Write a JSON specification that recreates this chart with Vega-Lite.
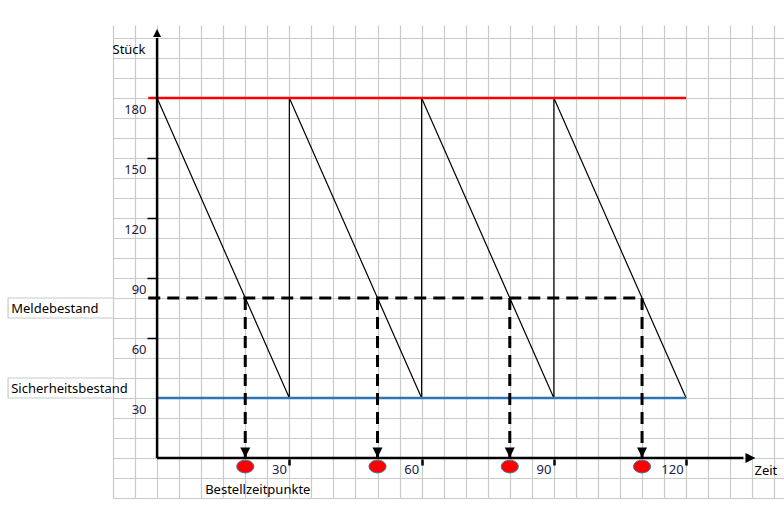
{
  "$schema": "https://vega.github.io/schema/vega-lite/v6.json",
  "width": 671,
  "height": 473,
  "autosize": {"type": "none"},
  "padding": {"left": 113, "top": 25, "right": 0, "bottom": 18},
  "background": "white",
  "config": {"view": {"stroke": null}, "font": "Noto Sans"},
  "datasets": {
    "stock": [
      {"t": 0, "v": 180, "i": 0},
      {"t": 30, "v": 30, "i": 1},
      {"t": 30, "v": 180, "i": 2},
      {"t": 60, "v": 30, "i": 3},
      {"t": 60, "v": 180, "i": 4},
      {"t": 90, "v": 30, "i": 5},
      {"t": 90, "v": 180, "i": 6},
      {"t": 120, "v": 30, "i": 7}
    ],
    "levels": [
      {"name": "Höchstbestand", "t": -2, "t2": 120, "v": 180},
      {"name": "Sicherheitsbestand", "t": 0, "t2": 120, "v": 30},
      {"name": "Meldebestand", "t": -2, "t2": 110, "v": 80}
    ],
    "orders": [
      {"t": 20, "v": 80},
      {"t": 50, "v": 80},
      {"t": 80, "v": 80},
      {"t": 110, "v": 80}
    ],
    "axes": [
      {"name": "Stück", "t": 0, "t2": 0, "v": 0, "v2": 210},
      {"name": "Zeit", "t": 0, "t2": 133, "v": 0, "v2": 0}
    ],
    "cells": [
      {"t": -33.8, "t2": -10, "v": 80, "v2": 80},
      {"t": -33.8, "t2": -10, "v": 70, "v2": 70},
      {"t": -33.8, "t2": -33.8, "v": 70, "v2": 80},
      {"t": -33.8, "t2": -10, "v": 40, "v2": 40},
      {"t": -33.8, "t2": -10, "v": 30, "v2": 30},
      {"t": -33.8, "t2": -33.8, "v": 30, "v2": 40}
    ],
    "notes": [
      {"t": -33.1, "v": 74.5, "label": "Meldebestand"},
      {"t": -33.1, "v": 34.5, "label": "Sicherheitsbestand"},
      {"t": 10.9, "v": -16, "label": "Bestellzeitpunkte"}
    ]
  },
  "encoding": {
    "x": {"field": "t", "type": "quantitative", "scale": {"domain": [-10, 142.2], "nice": false, "zero": false}, "axis": null},
    "y": {"field": "v", "type": "quantitative", "scale": {"domain": [-20, 216.5], "nice": false, "zero": false}, "axis": null}
  },
  "layer": [
    {
      "data": {"name": "stock"},
      "mark": {"type": "line", "color": "black", "strokeWidth": 1.2},
      "encoding": {
        "x": {"field": "t", "type": "quantitative", "scale": {"domain": [-10, 142.2], "nice": false, "zero": false},
          "axis": {"orient": "bottom", "values": [-10,-5,0,5,10,15,20,25,30,35,40,45,50,55,60,65,70,75,80,85,90,95,100,105,110,115,120,125,130,135,140],
            "grid": true, "gridColor": "#c6ccc6", "gridWidth": 1.2, "labels": false, "ticks": false, "domain": false, "title": null}},
        "y": {"field": "v", "type": "quantitative", "scale": {"domain": [-20, 216.5], "nice": false, "zero": false},
          "axis": {"orient": "left", "values": [-20,-10,0,10,20,30,40,50,60,70,80,90,100,110,120,130,140,150,160,170,180,190,200,210],
            "grid": true, "gridColor": "#c6ccc6", "gridWidth": 1.2, "labels": false, "ticks": false, "domain": false, "title": null}},
        "order": {"field": "i"}
      }
    },
    {
      "data": {"name": "cells"},
      "mark": {"type": "rule", "color": "#c6ccc6", "strokeWidth": 1.2},
      "encoding": {"x2": {"field": "t2"}, "y2": {"field": "v2"}}
    },
    {
      "data": {"name": "levels"},
      "transform": [{"filter": "datum.name == 'Höchstbestand'"}],
      "mark": {"type": "rule", "color": "#ff0000", "strokeWidth": 2.5},
      "encoding": {
        "x": {"field": "t", "type": "quantitative", "scale": {"domain": [-10, 142.2], "nice": false, "zero": false},
          "axis": {"orient": "bottom", "offset": -39, "values": [30, 60, 90, 120], "grid": false, "domain": false,
            "tickSize": 6, "tickColor": "black", "tickWidth": 2.5,
            "labelAlign": "right", "labelBaseline": "middle", "labelOffset": -3, "labelPadding": 4,
            "labelFont": "Noto Sans", "labelFontSize": 13, "labelColor": "#202048", "labelFlush": false, "labelOverlap": false,
            "title": "Zeit", "titleX": 641, "titleY": 11, "titleAlign": "left", "titleBaseline": "middle",
            "titleFont": "Noto Sans", "titleFontSize": 13, "titleFontWeight": "normal", "titleColor": "black"}},
        "x2": {"field": "t2"},
        "y": {"field": "v", "type": "quantitative", "scale": {"domain": [-20, 216.5], "nice": false, "zero": false},
          "axis": {"orient": "left", "offset": -44, "values": [30, 60, 90, 120, 150, 180], "grid": false, "domain": false,
            "tickSize": 10, "tickColor": "black", "tickWidth": 1.5,
            "tickOpacity": {"condition": {"test": "datum.value == 30 || datum.value == 180", "value": 0}, "value": 1},
            "labelAlign": "right", "labelBaseline": "middle", "labelOffset": 11, "labelPadding": 1,
            "labelFont": "Noto Sans", "labelFontSize": 13, "labelColor": "#202048", "labelFlush": false, "labelOverlap": false,
            "title": "Stück", "titleAngle": 0, "titleX": -45, "titleY": 24, "titleAlign": "left", "titleBaseline": "middle",
            "titleFont": "Noto Sans", "titleFontSize": 13, "titleFontWeight": "normal", "titleColor": "black"}}
      }
    },
    {
      "data": {"name": "levels"},
      "transform": [{"filter": "datum.name == 'Sicherheitsbestand'"}],
      "mark": {"type": "rule", "color": "#2e75b6", "strokeWidth": 2.5},
      "encoding": {"x2": {"field": "t2"}}
    },
    {
      "data": {"name": "levels"},
      "transform": [{"filter": "datum.name == 'Meldebestand'"}],
      "mark": {"type": "rule", "color": "black", "strokeWidth": 3, "strokeDash": [12, 7]},
      "encoding": {"x2": {"field": "t2"}}
    },
    {
      "data": {"name": "orders"},
      "mark": {"type": "rule", "color": "black", "strokeWidth": 3, "strokeDash": [12, 7]},
      "encoding": {"y2": {"datum": 0}}
    },
    {
      "data": {"name": "orders"},
      "mark": {"type": "point", "shape": "M-1,-1L1,-1L0,1Z", "size": 100, "filled": true, "color": "black", "opacity": 1, "yOffset": -5.5},
      "encoding": {"y": {"datum": 0, "type": "quantitative"}}
    },
    {
      "data": {"name": "axes"},
      "mark": {"type": "rule", "color": "black", "strokeWidth": 2.5},
      "encoding": {"x2": {"field": "t2"}, "y2": {"field": "v2"}}
    },
    {
      "data": {"name": "axes"},
      "transform": [{"filter": "datum.name == 'Stück'"}],
      "mark": {"type": "point", "shape": "M-1,1L1,1L0,-1Z", "size": 64, "filled": true, "color": "black", "opacity": 1, "yOffset": -5},
      "encoding": {"y": {"field": "v2", "type": "quantitative"}}
    },
    {
      "data": {"name": "axes"},
      "transform": [{"filter": "datum.name == 'Zeit'"}],
      "mark": {"type": "point", "shape": "M-1,-1L1,0L-1,1Z", "size": 100, "filled": true, "color": "black", "opacity": 1, "xOffset": 7},
      "encoding": {"x": {"field": "t2", "type": "quantitative"}}
    },
    {
      "data": {"name": "orders"},
      "mark": {"type": "point", "shape": "M-1,0A1,0.75 0 1,0 1,0A1,0.75 0 1,0 -1,0Z", "size": 289, "filled": true, "fill": "#ff0000", "stroke": "#41719c", "strokeWidth": 1, "opacity": 1, "yOffset": 8.5},
      "encoding": {"y": {"datum": 0, "type": "quantitative"}}
    },
    {
      "data": {"name": "notes"},
      "mark": {"type": "text", "align": "left", "baseline": "middle", "font": "Noto Sans", "fontSize": 13, "color": "black"},
      "encoding": {"text": {"field": "label"}}
    }
  ],
  "resolve": {"axis": {"x": "independent", "y": "independent"}}
}
